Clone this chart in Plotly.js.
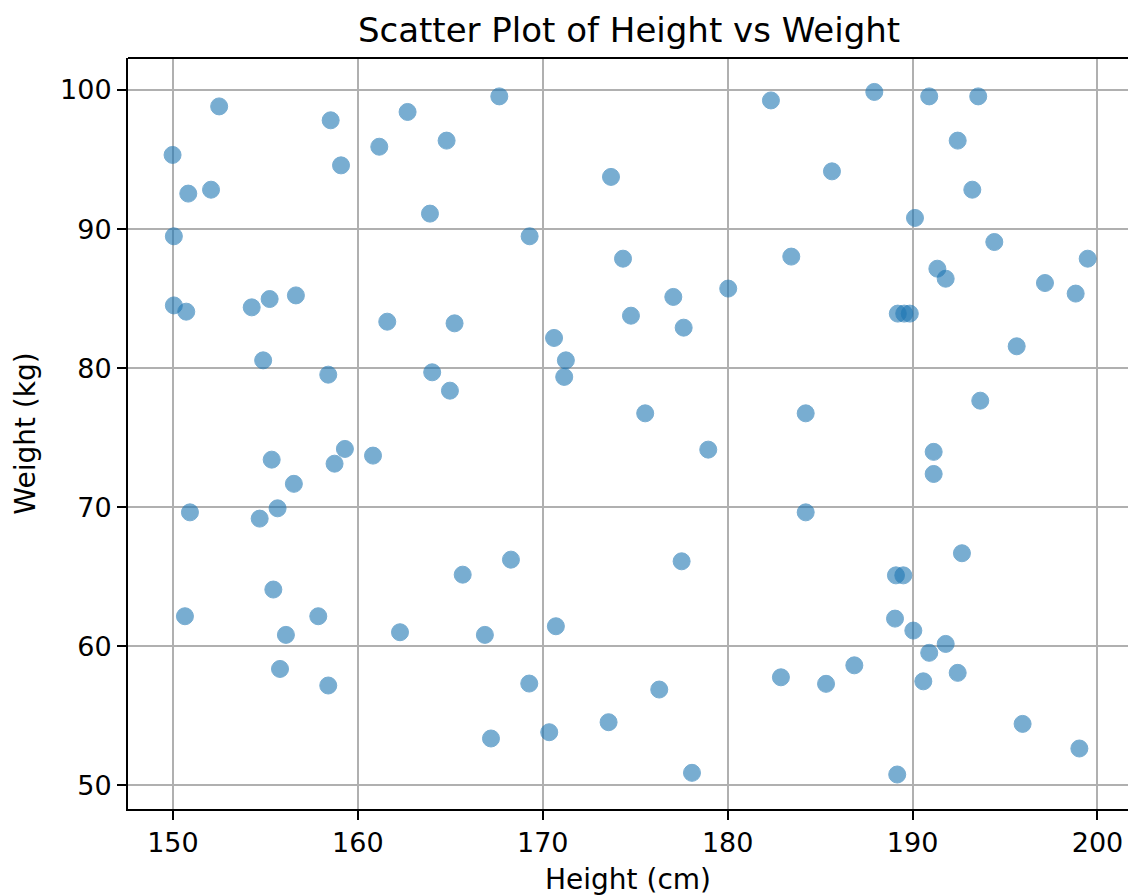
<!DOCTYPE html>
<html>
<head>
<meta charset="utf-8">
<script src="https://cdn.plot.ly/plotly-3.0.1.min.js"></script>
<style>
  html, body { margin: 0; padding: 0; background: #ffffff; }
  #chart { width: 1128px; height: 896px; }
</style>
</head>
<body>
<div id="chart"></div>
<script>
// Height (cm) of each person
const heights = [
  152.50, 149.98, 158.53, 159.09, 162.69, 161.16, 164.80, 167.65, 150.83, 152.06,
  163.90, 150.05, 150.05, 150.72, 154.26, 155.23, 156.65, 161.59, 165.23, 182.34,
  187.93, 173.69, 185.64, 169.29, 174.34, 183.44, 180.03, 177.06, 174.77, 177.62,
  170.61, 190.90, 193.55, 192.44, 193.23, 190.13, 194.42, 199.47, 191.34, 191.79,
  197.16, 198.82, 189.20, 189.55, 189.85, 154.88, 158.40, 164.02, 164.98, 159.30,
  155.34, 158.74, 160.82, 156.54, 150.92, 154.69, 155.66, 165.67, 171.25, 171.16,
  175.54, 184.22, 178.95, 184.22, 168.28, 177.51, 195.63, 193.66, 191.14, 191.14,
  192.67, 189.10, 189.50, 150.65, 155.43, 157.86, 156.11, 155.79, 158.40, 162.28,
  166.87, 167.20, 170.71, 169.27, 170.35, 173.56, 176.30, 178.07, 182.88, 185.32,
  186.85, 189.05, 190.04, 191.79, 190.90, 192.44, 190.58, 195.95, 199.02, 189.17
];
// Weight (kg) of each person, same order
const weights = [
  98.82, 95.33, 97.82, 94.58, 98.42, 95.92, 96.36, 99.54, 92.55, 92.83,
  91.11, 89.48, 84.51, 84.06, 84.37, 84.97, 85.23, 83.34, 83.22, 99.25,
  99.86, 93.75, 94.15, 89.48, 87.87, 88.02, 85.72, 85.12, 83.77, 82.91,
  82.17, 99.54, 99.54, 96.36, 92.83, 90.80, 89.07, 87.87, 87.15, 86.43,
  86.12, 85.36, 83.92, 83.92, 83.92, 80.56, 79.53, 79.70, 78.38, 74.19,
  73.42, 73.13, 73.71, 71.68, 69.63, 69.18, 69.92, 65.15, 80.56, 79.37,
  76.75, 76.75, 74.14, 69.63, 66.23, 66.11, 81.57, 77.66, 73.98, 72.39,
  66.69, 65.10, 65.10, 62.16, 64.08, 62.16, 60.82, 58.37, 57.18, 61.01,
  60.82, 53.37, 61.44, 57.32, 53.82, 54.54, 56.89, 50.90, 57.77, 57.30,
  58.63, 61.99, 61.13, 60.17, 59.53, 58.09, 57.48, 54.42, 52.65, 50.78
];
const xTicks = [150, 160, 170, 180, 190, 200];
const yTicks = [50, 60, 70, 80, 90, 100];

const chartTitle = "Scatter Plot of Height vs Weight";
const xTitle = "Height (cm)";
const yTitle = "Weight (kg)";

const FONT = "DejaVu Sans, Verdana, sans-serif";

const trace = {
  type: "scatter",
  mode: "markers",
  x: heights,
  y: weights,
  marker: {
    size: 17,
    color: "#1f77b4",
    opacity: 0.6,
    line: { width: 1, color: "#1f77b4" }
  },
  hoverinfo: "x+y",
  showlegend: false
};

const layout = {
  width: 1128,
  height: 896,
  paper_bgcolor: "#ffffff",
  plot_bgcolor: "#ffffff",
  margin: { l: 128, r: 0, t: 58, b: 87, pad: 0 },
  font: { family: FONT, size: 27, color: "#000000" },
  title: {
    text: chartTitle,
    font: { family: FONT, size: 34, color: "#000000" },
    xref: "paper",
    x: 0.501,
    xanchor: "center",
    yref: "container",
    y: 1 - 30 / 896,
    yanchor: "middle"
  },
  xaxis: {
    range: [147.57, 201.65],
    tickmode: "array",
    tickvals: xTicks,
    ticktext: xTicks.map(String),
    ticks: "outside",
    ticklen: 9,
    tickwidth: 2,
    tickcolor: "#000000",
    showline: true,
    linecolor: "#000000",
    linewidth: 2,
    mirror: false,
    showgrid: true,
    gridcolor: "#b0b0b0",
    gridwidth: 2,
    zeroline: false,
    automargin: false,
    tickfont: { family: FONT, size: 27, color: "#000000" },
    title: { text: xTitle, font: { family: FONT, size: 28, color: "#000000" }, standoff: 12 }
  },
  yaxis: {
    range: [48.3, 102.3],
    tickmode: "array",
    tickvals: yTicks,
    ticktext: yTicks.map(String),
    ticks: "outside",
    ticklen: 9,
    tickwidth: 2,
    tickcolor: "#000000",
    showline: true,
    linecolor: "#000000",
    linewidth: 2,
    mirror: false,
    showgrid: true,
    gridcolor: "#b0b0b0",
    gridwidth: 2,
    zeroline: false,
    automargin: false,
    tickfont: { family: FONT, size: 27, color: "#000000" },
    title: { text: yTitle, font: { family: FONT, size: 28, color: "#000000" }, standoff: 16 }
  },
  shapes: [
    { type: "line", xref: "paper", yref: "paper", x0: 0, x1: 1, y0: 1, y1: 1,
      line: { color: "#000000", width: 2 } }
  ]
};

Plotly.newPlot("chart", [trace], layout, { displayModeBar: false, staticPlot: true });
</script>
</body>
</html>
